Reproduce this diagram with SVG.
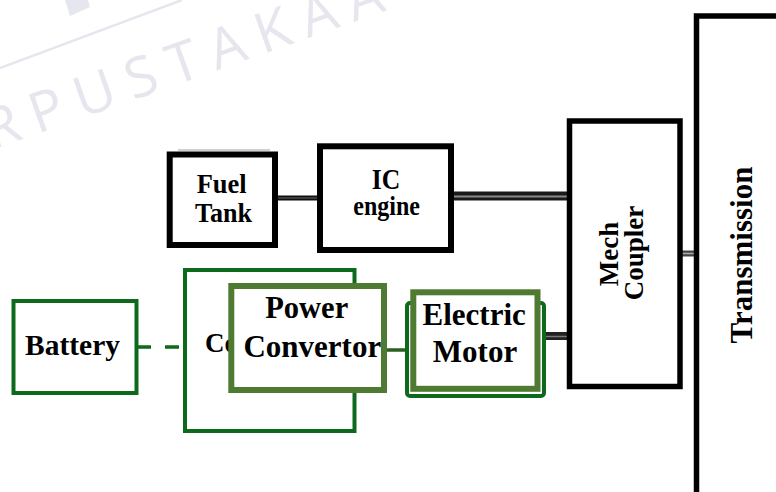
<svg xmlns="http://www.w3.org/2000/svg" width="776" height="492" viewBox="0 0 776 492">
<style>
.lbl{font-family:"Liberation Serif","Times New Roman",serif;font-weight:bold;fill:#000;}
.blk{fill:#fff;stroke:#000;}
.grn{fill:#fff;stroke:#0d6a1d;}
.olv{fill:#fff;stroke:#4e7b31;}
.wm{font-family:"Open Sans","Noto Sans",sans-serif;font-weight:normal;fill:#e6e6ef;}
</style>
<rect width="776" height="492" fill="#fff"/>
<g id="watermark">
  <polygon points="65,0 88,0 90,7 70,16" fill="#e6e6ef"/>
  <line x1="0" y1="68" x2="182" y2="0" stroke="#e6e6ef" stroke-width="2.5"/>
  <text class="wm" x="-50" y="165" font-size="56" letter-spacing="13.5" transform="rotate(-19.5 -50 165)">ERPUSTAKAA</text>
</g>
<g id="connectors">
  <line x1="178" y1="150" x2="270" y2="150" stroke="#cfcfcf" stroke-width="2"/>
  <line x1="275" y1="198" x2="320" y2="198" stroke="#111" stroke-width="5"/>
  <line x1="275" y1="198" x2="320" y2="198" stroke="#666" stroke-width="1"/>
  <line x1="451" y1="196" x2="570" y2="196" stroke="#1a1a1a" stroke-width="9"/>
  <line x1="451" y1="196.5" x2="570" y2="196.5" stroke="#8a8a8a" stroke-width="2"/>
  <line x1="680" y1="253.5" x2="697" y2="253.5" stroke="#444" stroke-width="6"/>
  <line x1="680" y1="253.5" x2="697" y2="253.5" stroke="#aaa" stroke-width="1.5"/>
  <line x1="544" y1="336" x2="570" y2="336" stroke="#222" stroke-width="8"/>
  <line x1="544" y1="336.5" x2="570" y2="336.5" stroke="#777" stroke-width="1.5"/>
  <line x1="384" y1="350" x2="413" y2="350" stroke="#2d5e22" stroke-width="3.5"/>
  <line x1="137" y1="347" x2="185" y2="347" stroke="#0d6a1d" stroke-width="3.5" stroke-dasharray="14 14"/>
</g>
<g id="transmission">
  <rect class="blk" x="696.5" y="16" width="200" height="600" stroke-width="5.5"/>
  <text class="lbl" font-size="31" text-anchor="middle" transform="translate(751.5 255) rotate(-90)">Transmission</text>
</g>
<g id="mech-coupler">
  <rect class="blk" x="569.5" y="121" width="110.5" height="265.5" stroke-width="5.5"/>
  <text class="lbl" font-size="27" text-anchor="middle" transform="translate(618 254) rotate(-90)">Mech</text>
  <text class="lbl" font-size="27" text-anchor="middle" transform="translate(643 253) rotate(-90)">Coupler</text>
</g>
<g id="fuel-tank">
  <rect class="blk" x="169.7" y="154.5" width="105.3" height="90.5" stroke-width="6"/>
  <text class="lbl" x="196.7" y="193" font-size="28" textLength="50" lengthAdjust="spacingAndGlyphs">Fuel</text>
  <text class="lbl" x="195" y="222" font-size="28" textLength="57" lengthAdjust="spacingAndGlyphs">Tank</text>
</g>
<g id="ic-engine">
  <rect class="blk" x="320" y="146.3" width="131" height="103.7" stroke-width="6"/>
  <text class="lbl" x="371.7" y="189" font-size="29" textLength="28.5" lengthAdjust="spacingAndGlyphs">IC</text>
  <text class="lbl" x="353.3" y="215" font-size="28" textLength="66.7" lengthAdjust="spacingAndGlyphs">engine</text>
</g>
<g id="battery">
  <rect class="grn" x="13.5" y="301" width="123" height="92" stroke-width="4"/>
  <text class="lbl" x="25" y="355" font-size="29" textLength="95" lengthAdjust="spacingAndGlyphs">Battery</text>
</g>
<g id="converter">
  <rect class="grn" x="185" y="270" width="169.5" height="161" stroke-width="4"/>
  <text class="lbl" x="205" y="352" font-size="27" fill="#222">Co</text>
</g>
<g id="power-convertor">
  <rect class="olv" x="231.3" y="286" width="152.7" height="104" stroke-width="6"/>
  <text class="lbl" x="306.7" y="318" font-size="30.5" text-anchor="middle">Power</text>
  <text class="lbl" x="312.3" y="357" font-size="31" text-anchor="middle">Convertor</text>
</g>
<g id="electric-motor">
  <rect class="grn" x="407" y="303" width="137" height="93" rx="3" stroke-width="4" stroke="#1b7a2b"/>
  <rect class="olv" x="413.3" y="292.3" width="124.2" height="96.5" stroke-width="6"/>
  <text class="lbl" x="474.2" y="325" font-size="31" text-anchor="middle">Electric</text>
  <text class="lbl" x="475" y="362" font-size="31" text-anchor="middle">Motor</text>
</g>
</svg>
